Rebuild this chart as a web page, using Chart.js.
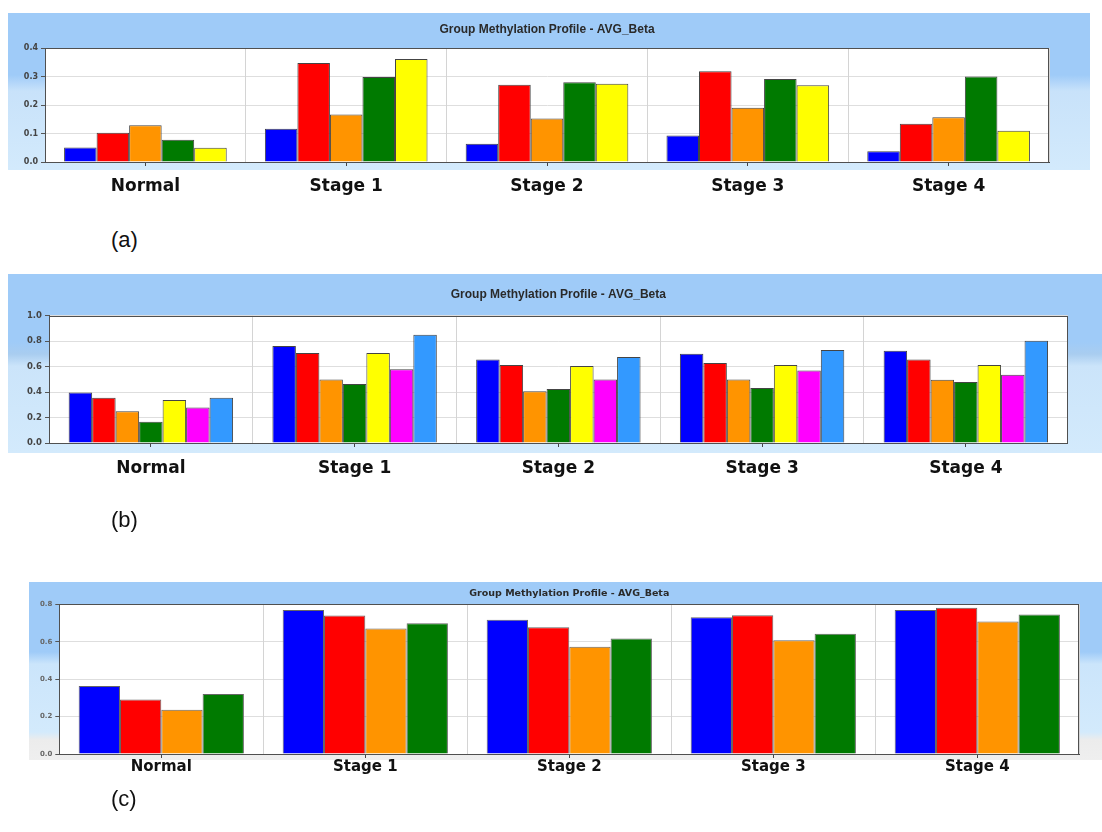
<!DOCTYPE html>
<html>
<head>
<meta charset="utf-8">
<script src="https://cdn.jsdelivr.net/npm/chart.js@4.4.1/dist/chart.umd.min.js"></script>
<style>
  html, body { margin: 0; padding: 0; background: #fff; width: 1102px; height: 832px; overflow: hidden; position: relative; }
  .frame { position: absolute; }
  canvas { position: absolute; }
  .tag { position: absolute; font-family: "Liberation Sans", Arial, sans-serif; font-size: 22px; line-height: 1; color: #111; }
</style>
</head>
<body>
<div class="frame" style="left:8px;top:13px;width:1082px;height:157px;background:linear-gradient(#9fcbf8 0,#9fcbf8 62px,#c8e2fa 78px,#d3eafc 100%)"></div>
<div class="frame" style="left:8px;top:274px;width:1094px;height:179px;background:linear-gradient(#9fcbf8 0,#9fcbf8 68px,#a9cdf0 80px,#cbe4fa 92px,#d3eafc 100%)"></div>
<div class="frame" style="left:29px;top:582px;width:1073px;height:178px;background:linear-gradient(#9fcbf8 0,#9fcbf8 70px,#cbe5fb 82px,#d3eafc 150px,#ececec 158px,#efefef 100%)"></div>

<canvas id="chartA" width="1082" height="187" style="left:8px;top:13px"></canvas>
<canvas id="chartB" width="1094" height="208" style="left:8px;top:274px"></canvas>
<canvas id="chartC" width="1080" height="197" style="left:22px;top:582px"></canvas>

<div class="tag" style="left:111px;top:229px">(a)</div>
<div class="tag" style="left:111px;top:509px">(b)</div>
<div class="tag" style="left:111px;top:788px">(c)</div>

<script>
// Groups on the category axis
const categories = ['Normal', 'Stage 1', 'Stage 2', 'Stage 3', 'Stage 4'];
const chartTitle = 'Group Methylation Profile - AVG_Beta';

// Panel (a): five series
const aBlue   = [0.051, 0.117, 0.064, 0.093, 0.038];
const aRed    = [0.103, 0.347, 0.271, 0.318, 0.134];
const aOrange = [0.129, 0.167, 0.153, 0.190, 0.157];
const aGreen  = [0.078, 0.298, 0.280, 0.291, 0.300];
const aYellow = [0.050, 0.361, 0.275, 0.269, 0.110];
const aTicks  = [0.0, 0.1, 0.2, 0.3, 0.4];

// Panel (b): seven series
const bBlue    = [0.396, 0.762, 0.655, 0.702, 0.725];
const bRed     = [0.355, 0.707, 0.613, 0.629, 0.655];
const bOrange  = [0.250, 0.498, 0.407, 0.498, 0.496];
const bGreen   = [0.167, 0.464, 0.425, 0.433, 0.480];
const bYellow  = [0.337, 0.707, 0.605, 0.613, 0.613];
const bMagenta = [0.279, 0.579, 0.498, 0.569, 0.537];
const bSky     = [0.355, 0.850, 0.676, 0.731, 0.803];
const bTicks   = [0.0, 0.2, 0.4, 0.6, 0.8, 1.0];

// Panel (c): four series
const cBlue   = [0.364, 0.770, 0.717, 0.731, 0.770];
const cRed    = [0.291, 0.740, 0.678, 0.742, 0.782];
const cOrange = [0.236, 0.671, 0.573, 0.608, 0.708];
const cGreen  = [0.321, 0.699, 0.617, 0.643, 0.745];
const cTicks  = [0.0, 0.2, 0.4, 0.6, 0.8];

const COLORS = {
  blue: '#0000ff', red: '#ff0000', orange: '#ff9400', green: '#007a00',
  yellow: '#ffff00', magenta: '#ff00ff', sky: '#3399ff'
};

// White plot area with a dark frame around it
const plotFrame = {
  id: 'plotFrame',
  beforeDraw(chart) {
    const { ctx, chartArea: a } = chart;
    ctx.save();
    ctx.fillStyle = '#ffffff';
    ctx.fillRect(a.left, a.top, a.width, a.height);
    ctx.restore();
  },
  afterDraw(chart) {
    const { ctx, chartArea: a } = chart;
    ctx.save();
    ctx.strokeStyle = '#505050';
    ctx.lineWidth = 1;
    ctx.strokeRect(Math.round(a.left) + 0.5, Math.round(a.top) + 0.5,
                   Math.round(a.width) - 1, Math.round(a.height));
    ctx.restore();
  }
};

function buildChart(id, o) {
  const datasets = o.series.map(s => ({
    data: s.values,
    backgroundColor: s.color,
    borderColor: o.edge,
    borderWidth: 1,
    xAxisID: 'x',
    yAxisID: 'y',
    categoryPercentage: o.groupShare,
    barPercentage: 1.0
  }));
  return new Chart(document.getElementById(id), {
    type: 'bar',
    data: { labels: categories, datasets },
    options: {
      responsive: false,
      animation: false,
      devicePixelRatio: 1,
      layout: { padding: { left: 0, right: o.padRight, top: 0, bottom: 0 } },
      plugins: {
        legend: { display: false },
        tooltip: { enabled: false },
        title: {
          display: true,
          text: chartTitle,
          fullSize: false,
          color: '#2a2a2a',
          font: o.titleFont,
          padding: o.titlePad
        }
      },
      scales: {
        y: {
          min: o.ticks[0],
          max: o.ticks[o.ticks.length - 1],
          ticks: {
            stepSize: o.ticks[1] - o.ticks[0],
            callback: v => Number(v).toFixed(1),
            font: o.yFont,
            color: o.yColor,
            padding: 3
          },
          grid: { color: '#dedede', tickColor: '#555', tickLength: 4 },
          border: { color: '#505050' },
          afterFit: s => { s.width = o.yWidth; }
        },
        xt: {
          type: 'category',
          position: 'bottom',
          weight: 0,
          offset: true,
          grid: { offset: false, drawOnChartArea: false, tickLength: 4, color: '#444' },
          ticks: { display: false },
          border: { display: true, color: '#444' },
          afterFit: s => { s.height = 4; }
        },
        x: {
          position: 'bottom',
          weight: 1,
          offset: true,
          grid: { offset: true, drawTicks: false, color: '#d4d4d4' },
          border: { display: false },
          ticks: { font: o.xFont, color: '#111', padding: o.xPad, maxRotation: 0, autoSkip: false },
          afterFit: s => { s.height = o.xHeight; }
        }
      }
    },
    plugins: [plotFrame]
  });
}

const labelFont = { family: 'DejaVu Sans', weight: 'bold', size: 17 };
const titleFontAB = { family: 'Liberation Sans', weight: 'bold', size: 12 };

buildChart('chartA', {
  series: [
    { values: aBlue, color: COLORS.blue },
    { values: aRed, color: COLORS.red },
    { values: aOrange, color: COLORS.orange },
    { values: aGreen, color: COLORS.green },
    { values: aYellow, color: COLORS.yellow }
  ],
  ticks: aTicks,
  edge: '#444',
  groupShare: 0.81,
  padRight: 41,
  yWidth: 37,
  yFont: { family: 'DejaVu Sans', weight: 'bold', size: 8 },
  yColor: '#444',
  xFont: labelFont,
  xPad: 10,
  xHeight: 34,
  titleFont: titleFontAB,
  titlePad: { top: 9.8, bottom: 10.8 }
});

buildChart('chartB', {
  series: [
    { values: bBlue, color: COLORS.blue },
    { values: bRed, color: COLORS.red },
    { values: bOrange, color: COLORS.orange },
    { values: bGreen, color: COLORS.green },
    { values: bYellow, color: COLORS.yellow },
    { values: bMagenta, color: COLORS.magenta },
    { values: bSky, color: COLORS.sky }
  ],
  ticks: bTicks,
  edge: '#444',
  groupShare: 0.807,
  padRight: 34.3,
  yWidth: 41,
  yFont: { family: 'DejaVu Sans', weight: 'bold', size: 8.5 },
  yColor: '#444',
  xFont: labelFont,
  xPad: 11,
  xHeight: 35,
  titleFont: titleFontAB,
  titlePad: { top: 13.8, bottom: 13.5 }
});

buildChart('chartC', {
  series: [
    { values: cBlue, color: COLORS.blue },
    { values: cRed, color: COLORS.red },
    { values: cOrange, color: COLORS.orange },
    { values: cGreen, color: COLORS.green }
  ],
  ticks: cTicks,
  edge: '#666',
  groupShare: 0.81,
  padRight: 22.7,
  yWidth: 37.3,
  yFont: { family: 'DejaVu Sans', weight: 'bold', size: 7 },
  yColor: '#666',
  xFont: { family: 'DejaVu Sans', weight: 'bold', size: 15 },
  xPad: 0,
  xHeight: 21,
  titleFont: { family: 'DejaVu Sans', weight: 'bold', size: 9.5 },
  titlePad: { top: 5.6, bottom: 5.3 }
});
</script>
</body>
</html>
